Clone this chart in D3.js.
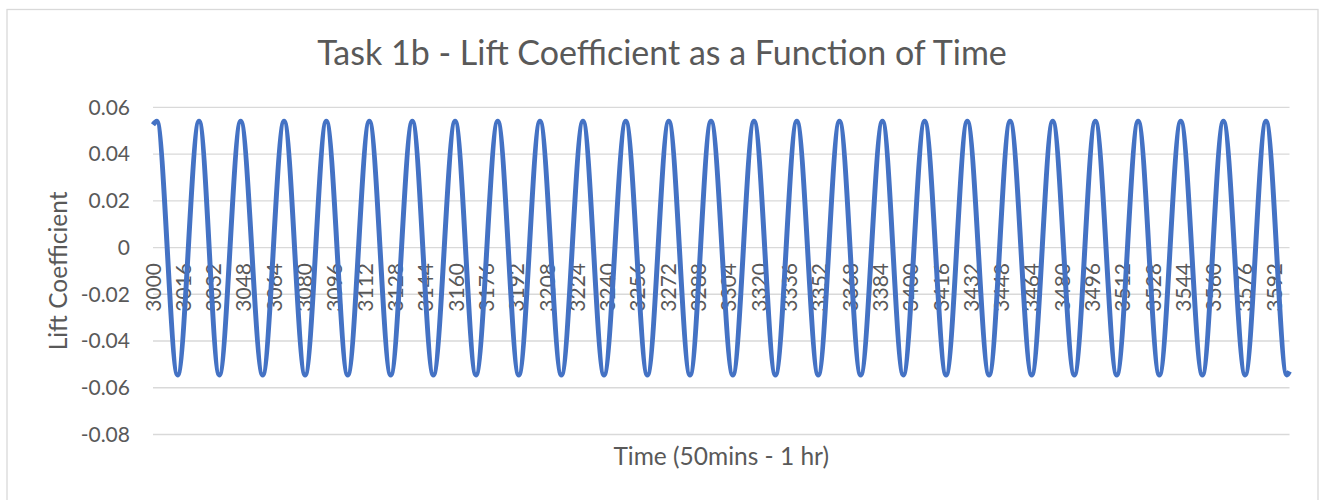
<!DOCTYPE html>
<html>
<head>
<meta charset="utf-8">
<script src="https://cdn.jsdelivr.net/npm/d3@7"></script>
<style>
  body { margin: 0; background: #fff; }
  text { font-family: Lato, "Open Sans", sans-serif; fill: #595959; }
</style>
</head>
<body>
<svg id="chart"></svg>
<script>
// peaks and troughs of the lift coefficient
var time = [3000, 3002, 3013.0, 3024.3, 3035.0, 3046.3, 3057.9, 3069.2, 3080.3, 3091.5,
  3102.8, 3114.2, 3125.5, 3136.9, 3148.0, 3159.5, 3170.5, 3182.0, 3193.1, 3204.3,
  3215.6, 3227.0, 3238.1, 3249.6, 3261.0, 3272.3, 3283.5, 3294.6, 3306.1, 3317.3,
  3328.6, 3339.9, 3351.2, 3362.4, 3373.6, 3385.1, 3396.1, 3407.4, 3418.7, 3429.9,
  3441.4, 3452.5, 3463.9, 3475.0, 3486.4, 3497.5, 3508.8, 3520.1, 3531.3, 3542.6,
  3554.0, 3565.1, 3576.6, 3587.6, 3598.6, 3600];
var lift = [0.0525, 0.054, -0.0545, 0.054, -0.0545, 0.054, -0.0545, 0.054, -0.0545, 0.054,
  -0.0545, 0.054, -0.0545, 0.054, -0.0545, 0.054, -0.0545, 0.054, -0.0545, 0.054,
  -0.0545, 0.054, -0.0545, 0.054, -0.0545, 0.054, -0.0545, 0.054, -0.0545, 0.054,
  -0.0545, 0.054, -0.0545, 0.054, -0.0545, 0.054, -0.0545, 0.054, -0.0545, 0.054,
  -0.0545, 0.054, -0.0545, 0.054, -0.0545, 0.054, -0.0545, 0.054, -0.0545, 0.054,
  -0.0545, 0.054, -0.0545, 0.054, -0.0545, -0.053];

var xTicks = [3000, 3016, 3032, 3048, 3064, 3080, 3096, 3112, 3128, 3144, 3160, 3176, 3192,
  3208, 3224, 3240, 3256, 3272, 3288, 3304, 3320, 3336, 3352, 3368, 3384, 3400, 3416, 3432,
  3448, 3464, 3480, 3496, 3512, 3528, 3544, 3560, 3576, 3592];
var yTicks = [-0.08, -0.06, -0.04, -0.02, 0, 0.02, 0.04, 0.06];
var yTickLabels = ["-0.08", "-0.06", "-0.04", "-0.02", "0", "0.02", "0.04", "0.06"];

var chartTitle = "Task 1b - Lift Coefficient as a Function of Time";
var xTitle = "Time (50mins - 1 hr)";
var yTitle = "Lift Coefficient";

const W = 1321, H = 500;
const plot = { left: 153, right: 1289.5, top: 107.3, bottom: 434.5 };

const svg = d3.select("#chart").attr("width", W).attr("height", H);

// outer chart border
svg.append("rect")
  .attr("x", 7).attr("y", 9.5)
  .attr("width", 1311).attr("height", 520)
  .attr("fill", "#fff")
  .attr("stroke", "#d9d9d9")
  .attr("stroke-width", 1.3);

const xScale = d3.scaleLinear().domain([3000, 3600]).range([plot.left, plot.right]);
const yScale = d3.scaleLinear().domain([-0.08, 0.06]).range([plot.bottom, plot.top]);

// gridlines
svg.append("g")
  .selectAll("line")
  .data(yTicks)
  .enter().append("line")
  .attr("x1", plot.left).attr("x2", plot.right)
  .attr("y1", d => yScale(d)).attr("y2", d => yScale(d))
  .attr("stroke", "#d9d9d9")
  .attr("stroke-width", 1.3);

// y axis labels
const yAxis = d3.axisLeft(yScale)
  .tickValues(yTicks)
  .tickFormat((d, i) => yTickLabels[i])
  .tickSize(0)
  .tickPadding(0);

svg.append("g")
  .attr("transform", "translate(130,0)")
  .call(yAxis)
  .call(g => g.select(".domain").remove())
  .selectAll("text")
  .style("font-family", "Lato, 'Open Sans', sans-serif")
  .style("font-size", "21px")
  .attr("fill", "#595959");

// x category labels, rotated, hanging below the zero line
svg.append("g")
  .selectAll("text")
  .data(xTicks)
  .enter().append("text")
  .attr("transform", d => "translate(" + xScale(d) + ",263) rotate(-90)")
  .attr("text-anchor", "end")
  .attr("dy", "0.36em")
  .style("font-size", "21px")
  .text(d => d);

// the lift coefficient line
const line = d3.line()
  .x((d, i) => xScale(time[i]))
  .y(d => yScale(d))
  .curve(d3.curveMonotoneX);

svg.append("path")
  .datum(lift)
  .attr("d", line)
  .attr("fill", "none")
  .attr("stroke", "#4472C4")
  .attr("stroke-width", 5)
  .attr("stroke-linejoin", "round");

// titles
svg.append("text")
  .attr("x", 662).attr("y", 65)
  .attr("text-anchor", "middle")
  .style("font-size", "34px")
  .text(chartTitle);

svg.append("text")
  .attr("x", (plot.left + plot.right) / 2).attr("y", 465)
  .attr("text-anchor", "middle")
  .style("font-size", "24.5px")
  .text(xTitle);

svg.append("text")
  .attr("transform", "translate(67," + (plot.top + plot.bottom) / 2 + ") rotate(-90)")
  .attr("text-anchor", "middle")
  .style("font-size", "24.5px")
  .text(yTitle);
</script>
</body>
</html>
